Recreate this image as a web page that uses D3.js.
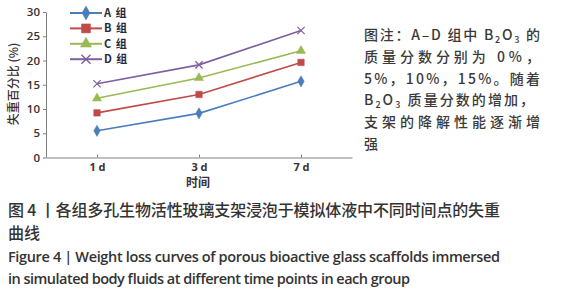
<!DOCTYPE html>
<html>
<head>
<meta charset="utf-8">
<script src="https://cdn.jsdelivr.net/npm/d3@7"></script>
<style>
body { margin: 0; background: #fff; }
</style>
</head>
<body>
<div id="chart"></div>
<script>
// 数据
const times = ["1 d", "3 d", "7 d"]
const groups = ["A 组", "B 组", "C 组", "D 组"]
const groupA = [5.5, 9.1, 15.7]
const groupB = [9.2, 13.0, 19.6]
const groupC = [12.2, 16.4, 22.0]
const groupD = [15.2, 19.1, 26.2]
const yTicks = [0, 5, 10, 15, 20, 25, 30]
const colors = ["#4a7ebb", "#be4b48", "#98b954", "#7d60a0"]
const symbols = [d3.symbolDiamond, d3.symbolSquare, d3.symbolTriangle, d3.symbolX]

const series = [groupA, groupB, groupC, groupD]

const width = 567
const height = 300
const svg = d3.select("#chart")
	.append("svg")
	.attr("width", width)
	.attr("height", height)

const cjk = "'Noto Sans CJK SC', 'Noto Sans', sans-serif"
const latin = "'Open Sans', 'Noto Sans CJK SC', sans-serif"

// 比例尺
const x = d3.scalePoint()
	.domain(times)
	.range([46, 352])
	.padding(0.5)
const y = d3.scaleLinear()
	.domain([0, 30])
	.range([157.5, 12])

// 坐标轴
const xAxis = svg.append("g")
	.attr("transform", `translate(0,${157.5})`)
	.call(d3.axisBottom(x).tickSize(-3).tickSizeOuter(0).tickPadding(6))
xAxis.select(".domain").attr("stroke", "#808080")
xAxis.selectAll(".tick line").attr("stroke", "#808080")
xAxis.selectAll(".tick text")
	.style("font-family", latin)
	.style("font-size", "11px")
	.style("font-weight", "bold")
	.attr("fill", "#3a3030")

const yAxis = svg.append("g")
	.attr("transform", `translate(46,0)`)
	.call(d3.axisLeft(y).tickValues(yTicks).tickSize(3).tickSizeOuter(0).tickPadding(3))
yAxis.select(".domain").attr("stroke", "#808080")
yAxis.selectAll(".tick line").attr("stroke", "#808080")
yAxis.selectAll(".tick text")
	.style("font-family", latin)
	.style("font-size", "11.5px")
	.style("font-weight", 600)
	.attr("fill", "#3a3030")

// 轴标题
svg.append("text")
	.attr("transform", `translate(18,84) rotate(-90)`)
	.attr("text-anchor", "middle")
	.style("font-family", cjk)
	.style("font-size", "12px")
	.style("font-weight", 500)
	.attr("fill", "#3a3030")
	.text("失重百分比 (%)")

svg.append("text")
	.attr("x", 198)
	.attr("y", 187)
	.attr("text-anchor", "middle")
	.style("font-family", cjk)
	.style("font-size", "12px")
	.style("font-weight", "bold")
	.attr("fill", "#3a3030")
	.text("时间")

// 折线
const line = d3.line()
	.x((d, i) => x(times[i]))
	.y(d => y(d))

series.forEach(function(s, k) {
	svg.append("path")
		.datum(s)
		.attr("d", line)
		.attr("fill", "none")
		.attr("stroke", colors[k])
		.attr("stroke-width", 1.6)

	svg.selectAll(".pt" + k)
		.data(s)
		.join("path")
		.attr("class", "pt" + k)
		.attr("transform", (d, i) => `translate(${x(times[i])},${y(d)})`)
		.attr("d", d3.symbol().type(symbols[k]).size(k == 1 ? 42 : 36))
		.attr("fill", k == 3 ? "none" : colors[k])
		.attr("stroke", colors[k])
		.attr("stroke-width", k == 3 ? 1.2 : 0.5)
})

// 图例
const legend = svg.append("g")
	.selectAll("g")
	.data(groups)
	.join("g")
	.attr("transform", (d, i) => `translate(70,${13 + i * 15.4})`)

legend.append("line")
	.attr("x1", 0)
	.attr("x2", 32)
	.attr("stroke", (d, i) => colors[i])
	.attr("stroke-width", 2)
legend.append("path")
	.attr("transform", "translate(16,0)")
	.attr("d", (d, i) => d3.symbol().type(symbols[i]).size(i == 1 ? 80 : 55)())
	.attr("fill", (d, i) => i == 3 ? "none" : colors[i])
	.attr("stroke", (d, i) => colors[i])
	.attr("stroke-width", (d, i) => i == 3 ? 1.4 : 0.5)
legend.append("text")
	.attr("x", 34)
	.attr("y", 4)
	.style("font-family", cjk)
	.style("font-size", "11px")
	.style("font-weight", "bold")
	.style("word-spacing", "2px")
	.attr("fill", "#2a2a3a")
	.text(d => d)

// 图注
const notes = [
	[["图注：A–D 组中 B", ""], ["2", "sub"], ["O", ""], ["3", "sub"], [" 的", ""]],
	[["质量分数分别为 0%，", ""]],
	[["5%，10%，15%。随着", ""]],
	[["B", ""], ["2", "sub"], ["O", ""], ["3", "sub"], [" 质量分数的增加，", ""]],
	[["支架的降解性能逐渐增", ""]],
	[["强", ""]]
]
const noteLen = [176, 176, 176, 170, 176, 0]

notes.forEach(function(parts, i) {
	const t = svg.append("text")
		.attr("x", 364)
		.attr("y", 40 + i * 21.8)
		.style("font-family", cjk)
		.style("font-size", "14px")
		.style("font-weight", 500)
		.attr("fill", "#3a3a3a")
	if (noteLen[i] > 0) {
		t.attr("textLength", noteLen[i]).attr("lengthAdjust", "spacing")
	}
	parts.forEach(function(p) {
		const ts = t.append("tspan").text(p[0])
		if (p[1] == "sub") {
			ts.style("font-size", "9px").attr("dy", 3)
		}
	})
	// 下标后复位基线
	t.selectAll("tspan").each(function(d, j) {
		if (j > 0 && parts[j - 1][1] == "sub" && parts[j][1] != "sub") {
			d3.select(this).attr("dy", -3)
		}
	})
})

// 标题
const caps = [
	{ text: "图 4 丨各组多孔生物活性玻璃支架浸泡于模拟体液中不同时间点的失重", y: 216, len: 492, font: cjk },
	{ text: "曲线", y: 239, len: 0, font: cjk },
	{ text: "Figure 4  |  Weight loss curves of porous bioactive glass scaffolds immersed", y: 262, len: 492, font: latin },
	{ text: "in simulated body fluids at different time points in each group", y: 284, len: 402, font: latin }
]
caps.forEach(function(c) {
	const t = svg.append("text")
		.attr("x", 8)
		.attr("y", c.y)
		.style("font-family", c.font)
		.style("font-size", c.font == cjk ? "16px" : "14.5px")
		.style("font-weight", c.font == cjk ? 500 : 600)
		.attr("fill", "#333")
		.text(c.text)
	if (c.len > 0) t.attr("textLength", c.len).attr("lengthAdjust", "spacing")
})
</script>
</body>
</html>
